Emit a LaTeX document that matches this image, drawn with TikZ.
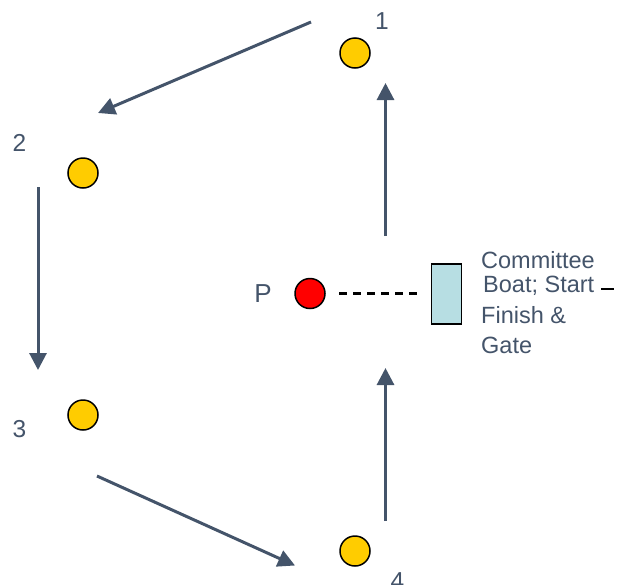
\documentclass[tikz,border=0pt]{standalone}
\usepackage{fontspec}
\setmainfont{Liberation Sans}
\usetikzlibrary{arrows.meta}
\definecolor{slate}{HTML}{44546A}
\definecolor{markyellow}{HTML}{FFCC00}
\definecolor{boatcyan}{HTML}{B7DEE3}
\begin{document}
\begin{tikzpicture}[x=1pt,y=-1pt,
  buoy/.style={circle,draw=black,line width=1.5pt,fill=markyellow,minimum size=30pt,inner sep=0pt},
  pin/.style={circle,draw=black,line width=1.5pt,fill=red,minimum size=30pt,inner sep=0pt},
  leg/.style={draw=slate,line width=3pt,-{Triangle[length=17pt,width=17pt]}},
  num/.style={text=slate,font=\fontsize{24.5}{28}\selectfont,anchor=base,inner sep=0pt},
  lab/.style={text=slate,font=\fontsize{23.5}{26}\selectfont,anchor=base west,inner sep=0pt}]
\useasboundingbox (0,0) rectangle (617,584);
% marks
\node[buoy] (m1) at (355,53) {};
\node[buoy] (m2) at (83,173) {};
\node[buoy] (m3) at (83,415) {};
\node[buoy] (m4) at (355,551) {};
\node[pin] (p) at (310,293.5) {};
\node[draw=black,line width=1.5pt,fill=boatcyan,minimum width=30pt,minimum height=60pt,inner sep=0pt] (boat) at (446.5,294) {};
% labels
\node[num] (l1) at (382,29.3) {1};
\node[num] (l2) at (19.5,151) {2};
\node[num] (l3) at (19.5,437) {3};
\node[num] (l4) at (397.5,589) {4};
\node[num,font=\fontsize{26}{30}\selectfont] (lp) at (263,302.7) {P};
\node[lab] (t1) at (481,268) {Committee};
\node[lab] (t2) at (483,292) {Boat; Start};
\node[lab] (t3) at (481,323) {Finish \&};
\node[lab] (t4) at (481,353) {Gate};
% start line
\coordinate (d1) at (339,293.5);
\coordinate (d2) at (417,293.5);
\draw[black,line width=3pt,dash pattern=on 8pt off 6pt] (d1) -- (d2);
\coordinate (u1) at (601,289);
\coordinate (u2) at (614,289);
\draw[black,line width=1.5pt] (u1) -- (u2);
% legs
\coordinate (a1s) at (311,22);
\coordinate (a1e) at (98,113);
\coordinate (a2s) at (38,187);
\coordinate (a2e) at (38,370);
\coordinate (a3s) at (97,476);
\coordinate (a3e) at (295,565.5);
\coordinate (a4s) at (385.5,521);
\coordinate (a4e) at (385.5,368);
\coordinate (a5s) at (385.5,236);
\coordinate (a5e) at (385.5,83);
\draw[leg] (a1s) -- (a1e);
\draw[leg] (a2s) -- (a2e);
\draw[leg] (a3s) -- (a3e);
\draw[leg] (a4s) -- (a4e);
\draw[leg] (a5s) -- (a5e);
\end{tikzpicture}
\end{document}
